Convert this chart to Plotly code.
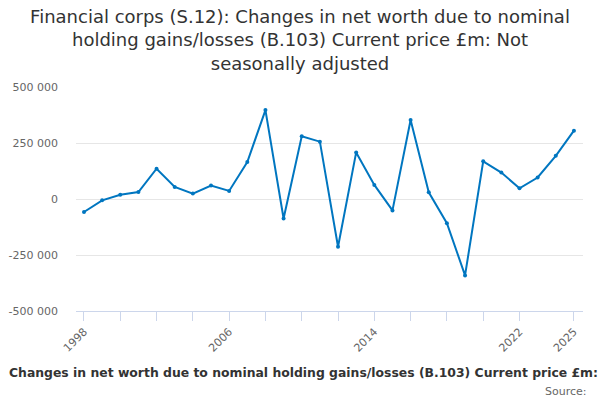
import plotly.graph_objects as go

# Financial corps (S.12), B.103, £m, not seasonally adjusted
years = list(range(1998, 2026))
values = [-58000, -6000, 19000, 31000, 135000, 54000, 24000, 60000, 36000, 165000,
          397000, -87000, 280000, 256000, -213000, 208000, 63000, -51000, 353000, 30000,
          -108000, -341000, 168000, 118000, 48000, 96000, 193000, 305000]

x_tickvals = [1998, 2000, 2002, 2004, 2006, 2008, 2010, 2012, 2014, 2016, 2018, 2020, 2022, 2025]
x_ticktext = ['1998', '', '', '', '2006', '', '', '', '2014', '', '', '', '2022', '2025']
y_tickvals = [-500000, -250000, 0, 250000, 500000]
y_ticktext = ['-500 000', '-250 000', '0', '250 000', '500 000']

title = ('Financial corps (S.12): Changes in net worth due to nominal<br>'
         'holding gains/losses (B.103) Current price £m: Not<br>seasonally adjusted')
axis_title = 'Changes in net worth due to nominal holding gains/losses (B.103) Current price £m:'

fig = go.Figure()
fig.add_trace(go.Scatter(x=years, y=values, mode='lines+markers',
                         line=dict(color='#0076c0', width=2),
                         marker=dict(color='#0076c0', size=4),
                         showlegend=False))

fig.update_layout(
    width=600, height=400,
    font_family='DejaVu Sans',
    paper_bgcolor='white', plot_bgcolor='white',
    margin=dict(l=76, r=17, t=87, b=89),
    title=dict(text=title, x=0.5, xanchor='center', y=0.9425, yanchor='top',
               font=dict(size=18, color='#333333')),
)
fig.update_xaxes(range=[1997.56, 2025.5], tickvals=x_tickvals, ticktext=x_ticktext,
                 tickangle=-45, ticks='outside', ticklen=9, tickcolor='#ccd6eb',
                 showline=True, linecolor='#ccd6eb', showgrid=False, zeroline=False,
                 automargin=False, tickfont=dict(size=11, color='#666666'))
fig.update_yaxes(range=[-500000, 500000], tickvals=y_tickvals, ticktext=y_ticktext,
                 showgrid=True, gridcolor='#e6e6e6', zeroline=True, zerolinecolor='#e6e6e6',
                 zerolinewidth=1, ticklabelstandoff=17, automargin=False,
                 tickfont=dict(size=11, color='#666666'))

fig.add_annotation(text='<b>' + axis_title + '</b>', xref='paper', yref='paper',
                   x=(7 - 76) / 507, y=-(372 - 311) / 224, xanchor='left', yanchor='middle',
                   showarrow=False, font=dict(size=12.4, color='#333333'))
fig.add_annotation(text='Source:', xref='paper', yref='paper',
                   x=(589 - 76) / 507, y=-(391 - 311) / 224, xanchor='right', yanchor='middle',
                   showarrow=False, font=dict(size=11, color='#666666'))

fig.write_html('out.html', config={'displayModeBar': False},
               post_script="document.body.style.margin='0px';")
